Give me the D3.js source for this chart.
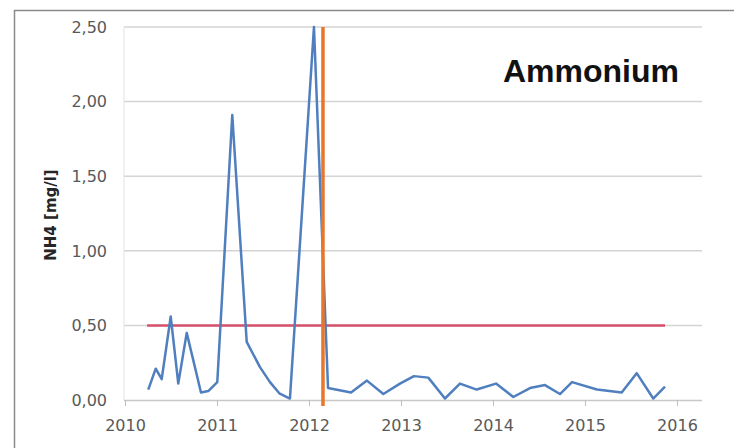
<!DOCTYPE html>
<html>
<head>
<meta charset="utf-8">
<script src="https://cdn.jsdelivr.net/npm/d3@7"></script>
<style>
  html, body { margin: 0; padding: 0; background: #ffffff; }
</style>
</head>
<body>
<script>
// measured NH4 values (decimal year, mg/l)
const sampleYears = [2010.253, 2010.334, 2010.399, 2010.497, 2010.579, 2010.671, 2010.826, 2010.905, 2011.003, 2011.166,
  2011.323, 2011.467, 2011.576, 2011.677, 2011.793, 2012.054, 2012.207, 2012.457, 2012.630, 2012.808,
  2012.989, 2013.141, 2013.297, 2013.478, 2013.641, 2013.823, 2014.033, 2014.221, 2014.402, 2014.565,
  2014.728, 2014.859, 2015.130, 2015.399, 2015.562, 2015.742, 2015.870];
const nh4Values = [0.07, 0.21, 0.14, 0.56, 0.11, 0.45, 0.05, 0.06, 0.12, 1.91,
  0.39, 0.22, 0.12, 0.045, 0.01, 2.50, 0.08, 0.05, 0.13, 0.04,
  0.11, 0.16, 0.15, 0.01, 0.11, 0.07, 0.11, 0.02, 0.08, 0.10,
  0.04, 0.12, 0.07, 0.05, 0.18, 0.01, 0.09];

// limit value line and marker line
const limitYears = [2010.24, 2015.87];
const limitValue = 0.5;
const markerYear = 2012.152;
const markerRange = [-0.04, 2.5];

const yTicks = [0, 0.5, 1, 1.5, 2, 2.5];
const xTicks = [2010, 2011, 2012, 2013, 2014, 2015, 2016];
const chartTitle = "Ammonium";
const yTitle = "NH4 [mg/l]";

const width = 734, height = 448;
const plot = {left: 124, right: 702, top: 27, bottom: 400};

const svg = d3.select("body").append("svg")
  .attr("width", width).attr("height", height)
  .style("font-family", "'DejaVu Sans', sans-serif");

const x = d3.scaleLinear().domain([2010, 2016.272]).range([125, plot.right]);
const y = d3.scaleLinear().domain([0, 2.5]).range([plot.bottom, plot.top]);

// outer chart border
svg.append("rect").attr("x", 14.5).attr("y", 10.5).attr("width", width + 20).attr("height", height + 20)
  .attr("fill", "#fff").attr("stroke", "#8a8a8a").attr("stroke-width", 1.5);

// gridlines
svg.append("g").selectAll("line").data(yTicks.filter(d => d > 0)).join("line")
  .attr("x1", plot.left).attr("x2", plot.right)
  .attr("y1", d => y(d)).attr("y2", d => y(d))
  .attr("stroke", "#d4d4d4").attr("stroke-width", 1.5);

// left plot edge
svg.append("line").attr("x1", plot.left).attr("x2", plot.left).attr("y1", plot.top).attr("y2", plot.bottom)
  .attr("stroke", "#e3e3e3").attr("stroke-width", 1);

// y labels
svg.append("g").selectAll("text").data(yTicks).join("text")
  .attr("x", 107).attr("y", d => y(d)).attr("dy", "0.36em")
  .attr("text-anchor", "end").attr("font-size", "16px").attr("fill", "#595959")
  .text(d => d3.format(".2f")(d).replace(".", ","));

// x axis
const xAxis = d3.axisBottom(x).tickValues(xTicks).tickSize(6).tickPadding(14).tickFormat(d3.format("d"));
svg.append("g").attr("transform", `translate(0,${plot.bottom})`).call(xAxis)
  .call(g => g.select(".domain").attr("d", `M${plot.left},0.5H${plot.right}`).attr("stroke", "#c8c8c8").attr("stroke-width", 1.5))
  .call(g => g.selectAll(".tick line").attr("stroke", "#bfbfbf"))
  .call(g => g.selectAll(".tick text").attr("fill", "#595959").attr("font-size", "16px")
    .attr("font-family", "'DejaVu Sans', sans-serif"));

// limit line
svg.append("line")
  .attr("x1", x(limitYears[0])).attr("x2", x(limitYears[1]))
  .attr("y1", y(limitValue)).attr("y2", y(limitValue))
  .attr("stroke", "#d6506b").attr("stroke-width", 2.5);

// data line
const data = sampleYears.map((t, i) => ({t, v: nh4Values[i]}));
const line = d3.line().x(d => x(d.t)).y(d => y(d.v));
svg.append("path").datum(data).attr("fill", "none")
  .attr("stroke", "#4f7fbe").attr("stroke-width", 2.5).attr("stroke-linejoin", "round")
  .attr("d", line);

// vertical marker
svg.append("line")
  .attr("x1", x(markerYear)).attr("x2", x(markerYear))
  .attr("y1", y(markerRange[1])).attr("y2", y(markerRange[0]))
  .attr("stroke", "#e8772a").attr("stroke-width", 3.5);

// titles
svg.append("text").attr("x", 591).attr("y", 82).attr("text-anchor", "middle")
  .attr("font-family", "'Liberation Sans', Arial, sans-serif").attr("font-weight", "bold")
  .attr("font-size", "32px").attr("fill", "#111").text(chartTitle);

svg.append("text").attr("transform", "translate(56,215) rotate(-90)").attr("text-anchor", "middle")
  .attr("font-weight", "bold").attr("font-size", "15px").attr("fill", "#262626").text(yTitle);
</script>
</body>
</html>
